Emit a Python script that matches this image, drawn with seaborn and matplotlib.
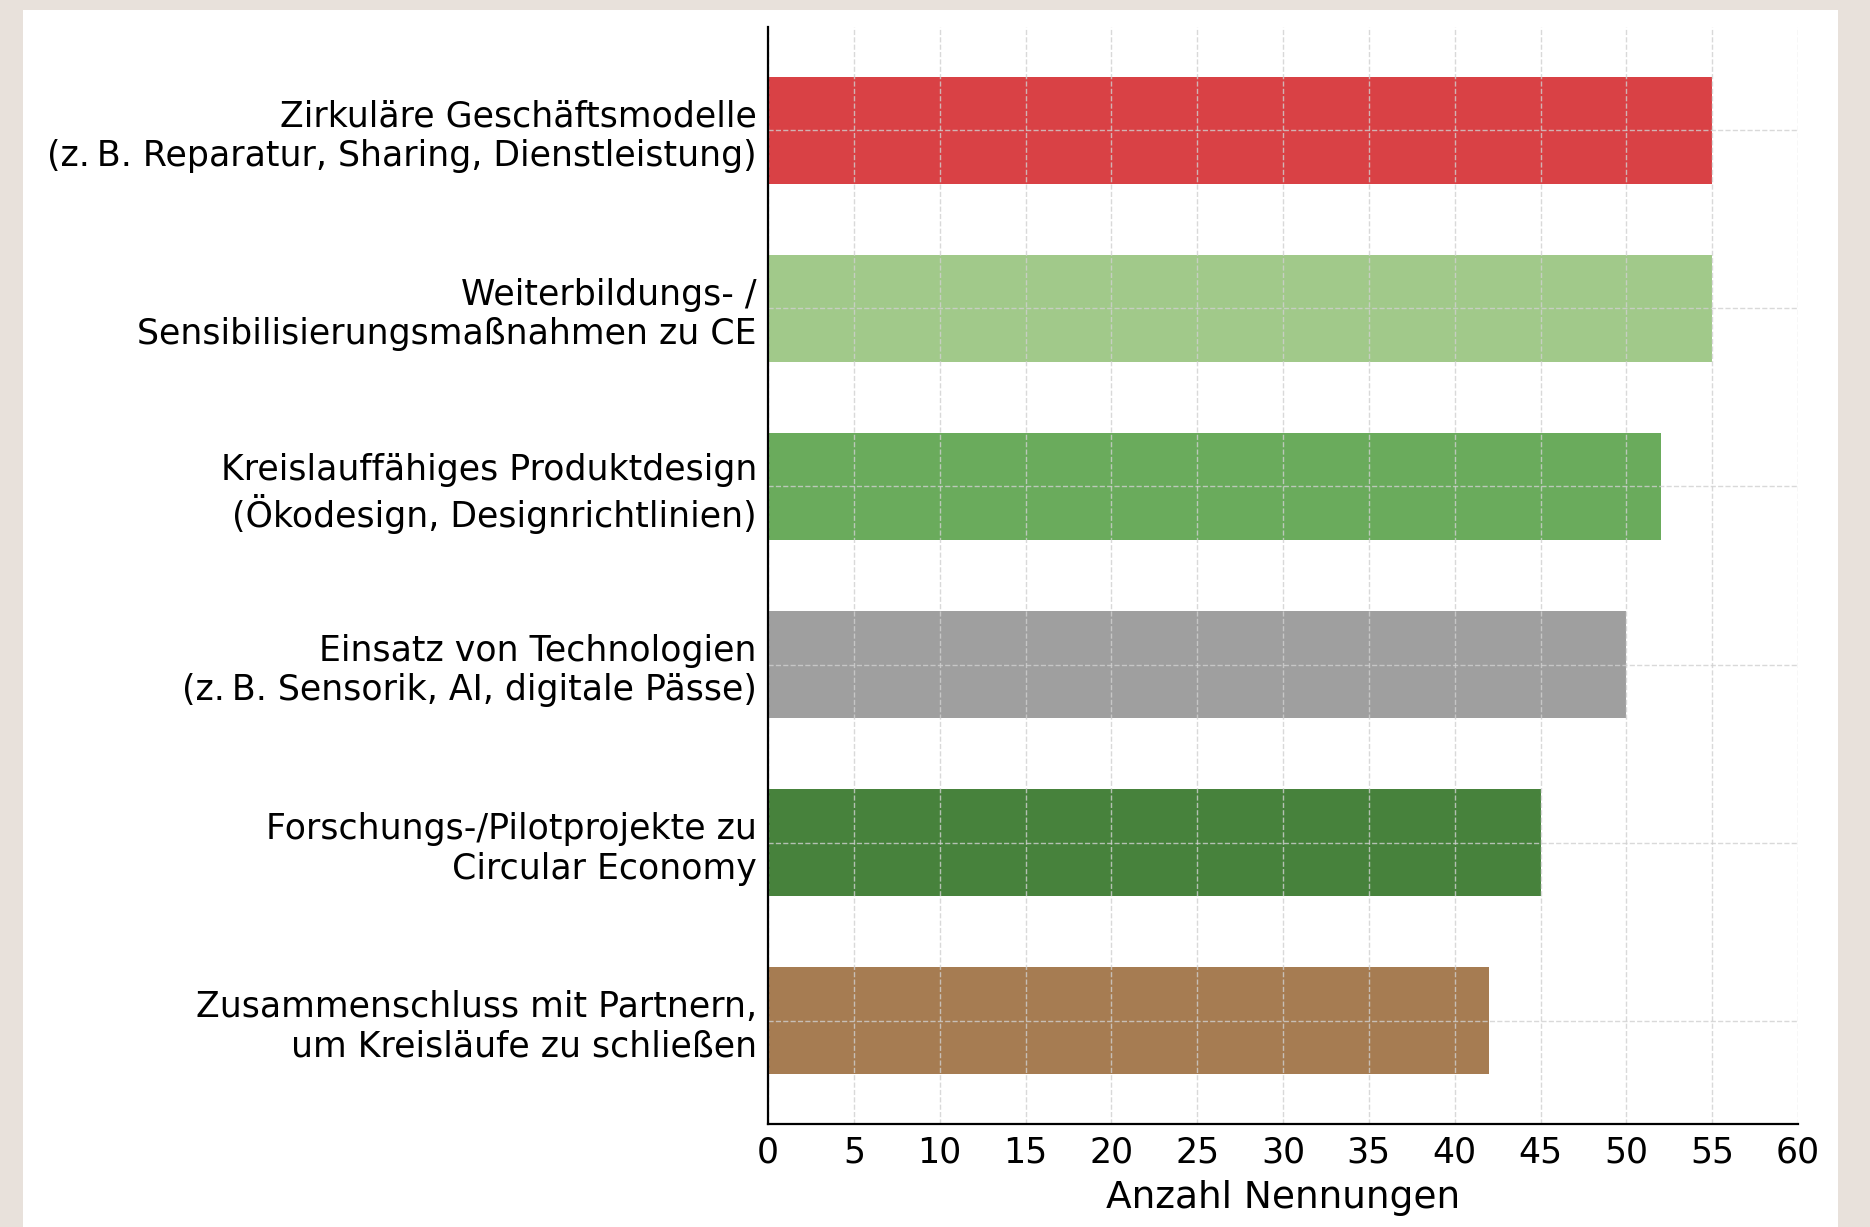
import matplotlib
matplotlib.use("Agg")
import matplotlib.pyplot as plt
import seaborn as sns
import pandas as pd
from matplotlib.patches import Rectangle

categories = [
    "Zirkuläre Geschäftsmodelle\n(z.\u2009B. Reparatur, Sharing, Dienstleistung)",
    "Weiterbildungs- /\nSensibilisierungsmaßnahmen zu CE",
    "Kreislauffähiges Produktdesign\n(Ökodesign, Designrichtlinien)",
    "Einsatz von Technologien\n(z.\u2009B. Sensorik, AI, digitale Pässe)",
    "Forschungs-/Pilotprojekte zu\nCircular Economy",
    "Zusammenschluss mit Partnern,\num Kreisläufe zu schließen",
]
values = [55, 55, 52, 50, 45, 42]
colors = ["#d94145", "#a1c98a", "#6aab5c", "#9f9f9f", "#47823c", "#a67c52"]
x_ticks = list(range(0, 61, 5))
x_label = "Anzahl Nennungen"

sns.set_theme(style="white")
plt.rcParams["font.family"] = ["DejaVu Sans"]

df = pd.DataFrame({"Kategorie": categories, "Wert": values})

fig = plt.figure(figsize=(18.7, 12.27), dpi=100)
fig.patch.set_facecolor("#e8e1db")
fig.add_artist(Rectangle((23 / 1870, 0), (1838 - 23) / 1870, 1 - 10 / 1227,
                         transform=fig.transFigure, facecolor="white",
                         edgecolor="none", zorder=0))

ax = fig.add_axes([768 / 1870, 1 - 1124 / 1227, (1798 - 768) / 1870, (1124 - 27) / 1227])
ax.set_facecolor("none")

sns.barplot(data=df, y="Kategorie", x="Wert", hue="Kategorie", palette=colors,
            orient="h", width=0.6, legend=False, ax=ax, saturation=1,
            edgecolor="none", zorder=2)

ax.set_xlim(0, 60)
ax.set_ylim(5.58, -0.58)
ax.set_xticks(x_ticks)
ax.set_xticklabels([str(t) for t in x_ticks])
ax.set_xlabel(x_label, fontsize=27, labelpad=8, color="black")
ax.set_ylabel("")

ax.grid(True, axis="both", color="#d0d0d0", linestyle="--", linewidth=1.0, alpha=0.8, zorder=3)
ax.set_axisbelow(False)

for s in ["top", "right"]:
    ax.spines[s].set_visible(False)
for s in ["left", "bottom"]:
    ax.spines[s].set_color("black")
    ax.spines[s].set_linewidth(1.6)
    ax.spines[s].set_zorder(5)

ax.tick_params(axis="x", direction="in", length=7, width=1.2, labelsize=25, pad=8, colors="black")
ax.tick_params(axis="y", direction="in", length=7, width=1.2, labelsize=25, pad=8, colors="black")
for lbl in ax.get_yticklabels():
    lbl.set_linespacing(1.2)

fig.savefig("out.png", dpi=100, facecolor=fig.get_facecolor())
